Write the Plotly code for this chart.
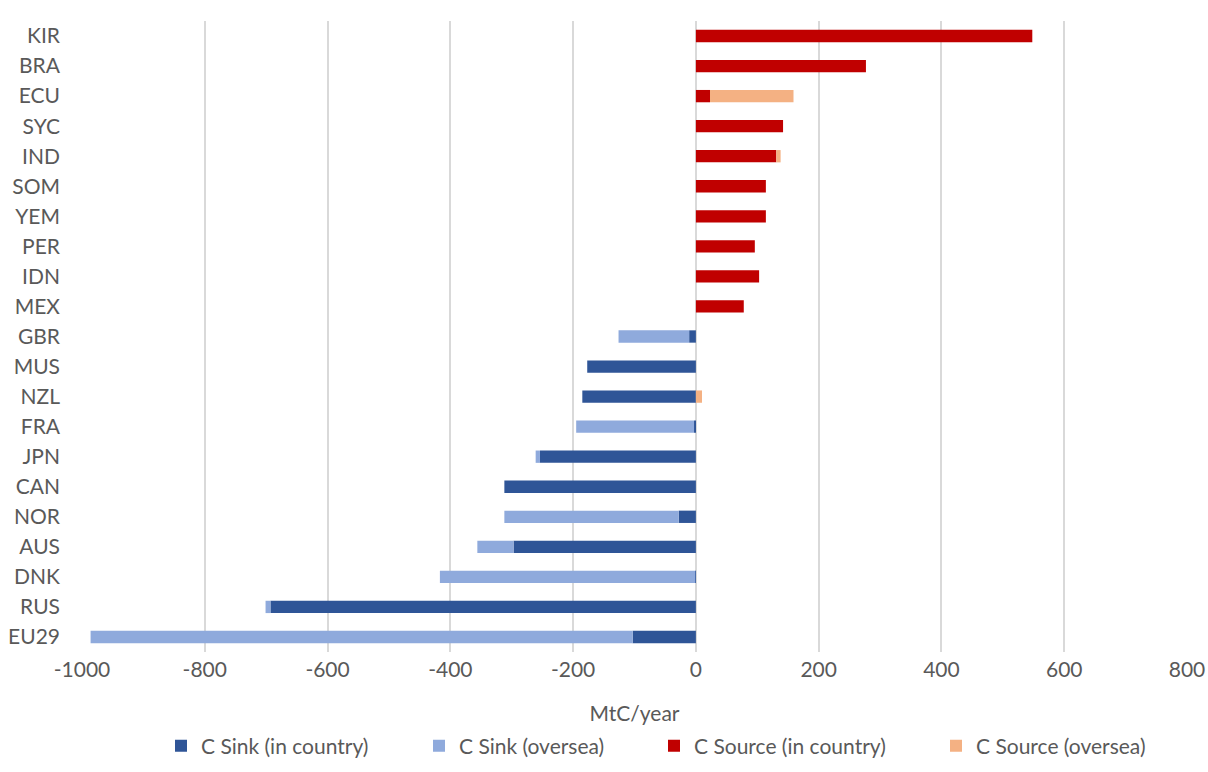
import plotly.graph_objects as go

countries = ["KIR", "BRA", "ECU", "SYC", "IND", "SOM", "YEM", "PER", "IDN", "MEX",
             "GBR", "MUS", "NZL", "FRA", "JPN", "CAN", "NOR", "AUS", "DNK", "RUS", "EU29"]

sink_in_country = [0, 0, 0, 0, 0, 0, 0, 0, 0, 0,
                   -11, -177, -185, -3, -254, -312, -28, -297, -1, -693, -103]
sink_oversea = [0, 0, 0, 0, 0, 0, 0, 0, 0, 0,
                -115, 0, 0, -192, -7, 0, -284, -59, -416, -8, -883]
source_in_country = [548, 277, 23, 142, 131, 114, 114, 96, 103, 78,
                     0, 0, 0, 0, 0, 0, 0, 0, 0, 0, 0]
source_oversea = [0, 0, 136, 0, 7, 0, 0, 0, 0, 0,
                  0, 0, 10, 0, 0, 0, 0, 0, 0, 0, 0]

x_ticks = [-1000, -800, -600, -400, -200, 0, 200, 400, 600, 800]

font_family = "Lato, Open Sans, sans-serif"
text_color = "#595959"
fsize = 21

W, H = 1208, 772

fig = go.Figure()
series = [
    ("C Sink (in country)", sink_in_country, "#2F5597", "legend", 161),
    ("C Sink (oversea)", sink_oversea, "#8FAADC", "legend2", 419),
    ("C Source (in country)", source_in_country, "#C00000", "legend3", 654),
    ("C Source (oversea)", source_oversea, "#F4B183", "legend4", 936),
]
for name, vals, col, lg, _ in series:
    fig.add_trace(go.Bar(
        y=countries, x=vals, name=name, orientation="h",
        marker=dict(color=col, line=dict(width=0)),
        legend=lg, showlegend=True,
    ))

legend_common = dict(
    orientation="h", xanchor="left", xref="container",
    y=1 - 746 / H, yanchor="middle", yref="container",
    font=dict(size=fsize, color=text_color, family=font_family),
    bgcolor="rgba(0,0,0,0)",
)
legends = {}
for name, vals, col, lg, px in series:
    legends[lg] = dict(legend_common, x=px / W)

fig.update_layout(
    width=W, height=H,
    showlegend=True,
    barmode="relative",
    bargap=0.59,
    plot_bgcolor="white", paper_bgcolor="white",
    margin=dict(l=82, r=21, t=21, b=120, autoexpand=False),
    font=dict(family=font_family, size=fsize, color=text_color),
    xaxis=dict(
        range=[-1000, 800], tickvals=x_ticks, ticktext=[str(v) for v in x_ticks],
        showgrid=True, gridcolor="#D9D9D9", gridwidth=1.5,
        zeroline=True, zerolinecolor="#D9D9D9", zerolinewidth=1.5,
        showline=False, ticks="", automargin=False,
        ticklabelstandoff=3,
        title=dict(text="MtC/year", font=dict(size=fsize, color=text_color), standoff=26),
        tickfont=dict(size=fsize, color=text_color),
    ),
    yaxis=dict(
        categoryorder="array", categoryarray=countries, autorange="reversed",
        showgrid=False, showline=False, ticks="", automargin=False,
        ticklabelstandoff=21,
        tickfont=dict(size=fsize, color=text_color),
    ),
    **legends,
)

fig.write_html("out.html")
